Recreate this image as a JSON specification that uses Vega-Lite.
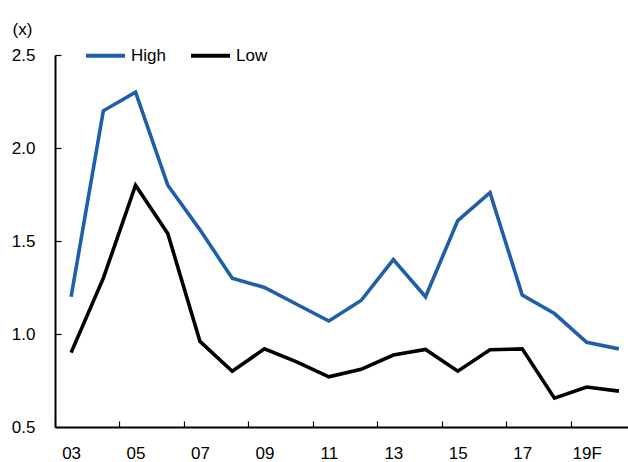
{
  "$schema": "https://vega.github.io/schema/vega-lite/v6.json",
  "autosize": {"type": "none"},
  "width": 573,
  "height": 372,
  "padding": {"left": 55, "top": 55, "right": 0, "bottom": 35},
  "background": "white",
  "config": {
    "view": {"stroke": null},
    "font": "Liberation Sans",
    "axis": {"labelFont": "Liberation Sans", "titleFont": "Liberation Sans", "labelColor": "#000", "titleColor": "#000", "domainColor": "#000", "tickColor": "#000", "domainWidth": 2, "tickWidth": 1.2, "grid": false, "labelFontSize": 17, "titleFontSize": 17, "titleFontWeight": "normal"},
    "legend": {"labelFont": "Liberation Sans", "labelFontSize": 17, "labelColor": "#000"}
  },
  "data": {"values": [
    {"yr": "03", "series": "High", "v": 1.20},
    {"yr": "04", "series": "High", "v": 2.20},
    {"yr": "05", "series": "High", "v": 2.30},
    {"yr": "06", "series": "High", "v": 1.80},
    {"yr": "07", "series": "High", "v": 1.56},
    {"yr": "08", "series": "High", "v": 1.30},
    {"yr": "09", "series": "High", "v": 1.25},
    {"yr": "10", "series": "High", "v": 1.16},
    {"yr": "11", "series": "High", "v": 1.07},
    {"yr": "12", "series": "High", "v": 1.18},
    {"yr": "13", "series": "High", "v": 1.40},
    {"yr": "14", "series": "High", "v": 1.20},
    {"yr": "15", "series": "High", "v": 1.61},
    {"yr": "16", "series": "High", "v": 1.76},
    {"yr": "17", "series": "High", "v": 1.21},
    {"yr": "18", "series": "High", "v": 1.11},
    {"yr": "19F", "series": "High", "v": 0.955},
    {"yr": "20F", "series": "High", "v": 0.92},
    {"yr": "03", "series": "Low", "v": 0.90},
    {"yr": "04", "series": "Low", "v": 1.30},
    {"yr": "05", "series": "Low", "v": 1.80},
    {"yr": "06", "series": "Low", "v": 1.54},
    {"yr": "07", "series": "Low", "v": 0.96},
    {"yr": "08", "series": "Low", "v": 0.80},
    {"yr": "09", "series": "Low", "v": 0.92},
    {"yr": "10", "series": "Low", "v": 0.85},
    {"yr": "11", "series": "Low", "v": 0.77},
    {"yr": "12", "series": "Low", "v": 0.81},
    {"yr": "13", "series": "Low", "v": 0.887},
    {"yr": "14", "series": "Low", "v": 0.917},
    {"yr": "15", "series": "Low", "v": 0.80},
    {"yr": "16", "series": "Low", "v": 0.915},
    {"yr": "17", "series": "Low", "v": 0.92},
    {"yr": "18", "series": "Low", "v": 0.655},
    {"yr": "19F", "series": "Low", "v": 0.715},
    {"yr": "20F", "series": "Low", "v": 0.693}
  ]},
  "mark": {"type": "line", "strokeWidth": 3.6, "strokeJoin": "miter", "strokeCap": "butt"},
  "encoding": {
    "x": {
      "field": "yr", "type": "ordinal", "sort": null,
      "scale": {"type": "point", "range": [0, 580], "padding": 0.5},
      "axis": {
        "title": null, "labelAngle": 0,
        "values": ["03", "05", "07", "09", "11", "13", "15", "17", "19F"],
        "tickSize": -6, "tickOffset": -16.1, "labelOffset": 16.1, "labelPadding": 24
      }
    },
    "y": {
      "field": "v", "type": "quantitative",
      "scale": {"domain": [0.5, 2.5], "nice": false, "zero": false},
      "axis": {
        "values": [0.5, 1.0, 1.5, 2.0, 2.5], "format": ".1f",
        "tickSize": -6, "labelPadding": 26,
        "title": "(x)", "titleAngle": 0, "titleAlign": "left", "titleBaseline": "alphabetic",
        "titleX": -43, "titleY": -21
      }
    },
    "color": {
      "field": "series", "type": "nominal",
      "scale": {"domain": ["High", "Low"], "range": ["#1F5FAA", "#000000"]},
      "legend": {
        "title": null, "orient": "none", "direction": "horizontal",
        "legendX": 29, "legendY": -21,
        "symbolType": "stroke", "symbolSize": 1521, "symbolStrokeWidth": 4,
        "labelOffset": 4, "columnPadding": 17, "padding": 0, "offset": 0
      }
    }
  }
}
